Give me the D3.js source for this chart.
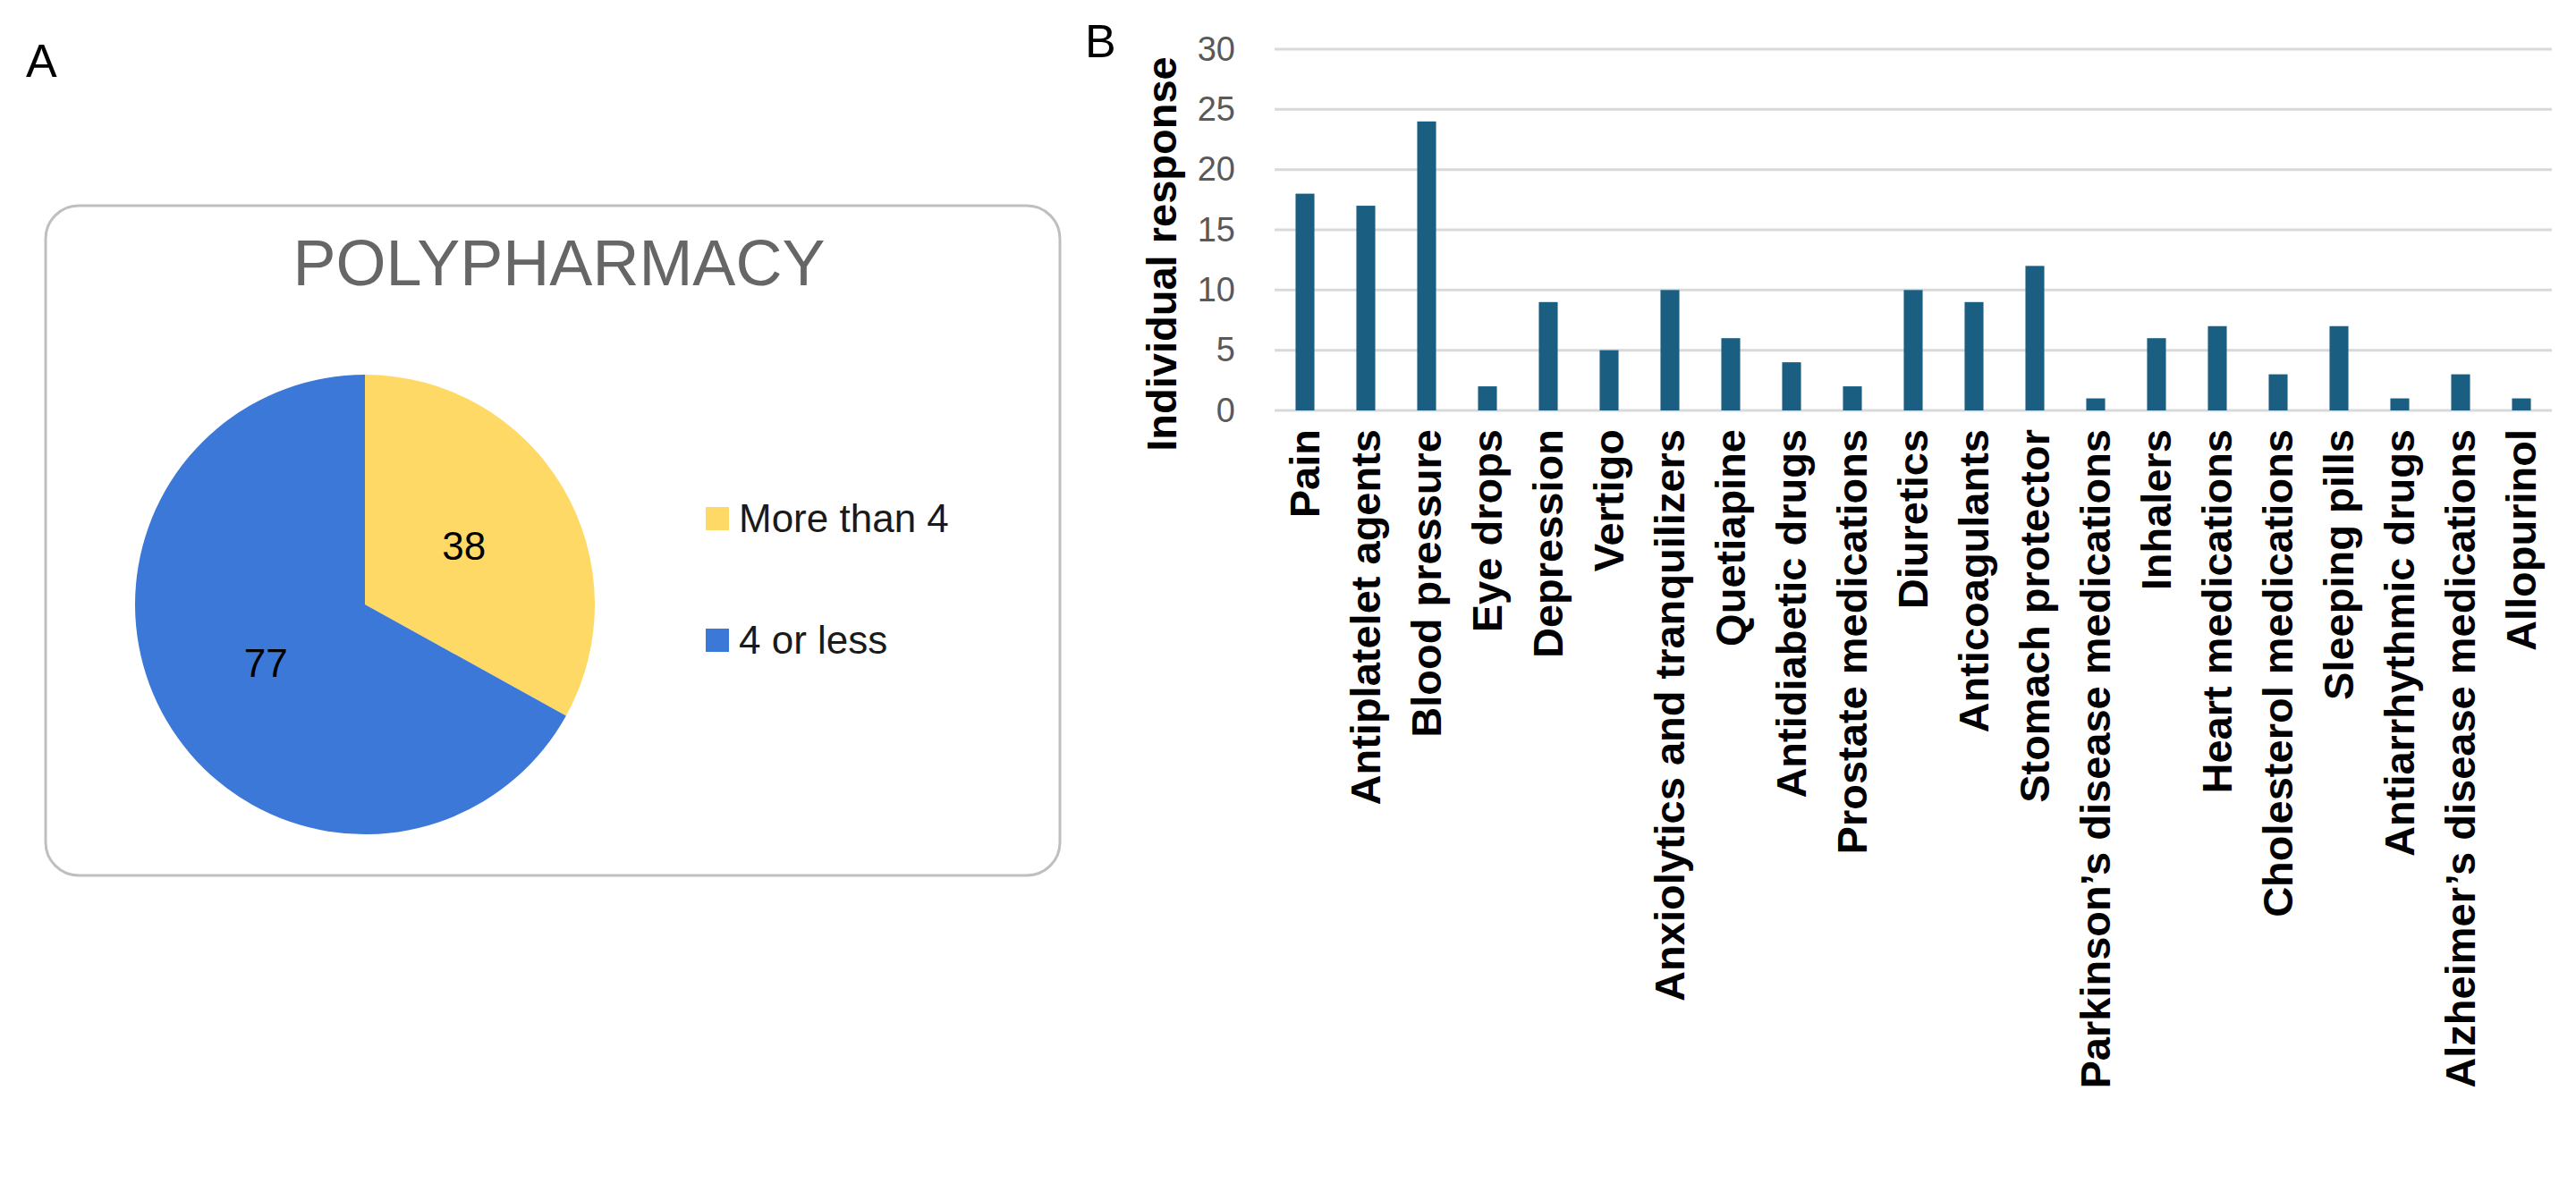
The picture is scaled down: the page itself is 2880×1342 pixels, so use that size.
<!DOCTYPE html>
<html>
<head>
<meta charset="utf-8">
<script src="https://cdn.jsdelivr.net/npm/d3@7/dist/d3.min.js"></script>
<style>
  html, body { margin: 0; padding: 0; background: #fff; }
  svg { display: block; }
  text { font-family: "Liberation Sans", Arial, sans-serif; }
</style>
</head>
<body>
<svg id="chart" width="2880" height="1342"></svg>
<script>
// ---- Panel A data ----
const pieLabels = ["More than 4", "4 or less"];
const pieValues = [38, 77];
const pieColors = ["#FFD966", "#3C78D8"];
const pieTitle = "POLYPHARMACY";

// ---- Panel B data ----
const categories = [
  "Pain", "Antiplatelet agents", "Blood pressure", "Eye drops", "Depression",
  "Vertigo", "Anxiolytics and tranquilizers", "Quetiapine", "Antidiabetic drugs",
  "Prostate medications", "Diuretics", "Anticoagulants", "Stomach protector",
  "Parkinson\u2019s disease medications", "Inhalers", "Heart medications",
  "Cholesterol medications", "Sleeping pills", "Antiarrhythmic drugs",
  "Alzheimer\u2019s disease medications", "Allopurinol"
];
const responses = [18, 17, 24, 2, 9, 5, 10, 6, 4, 2, 10, 9, 12, 1, 6, 7, 3, 7, 1, 3, 1];
const yTicks = [0, 5, 10, 15, 20, 25, 30];
const yTitle = "Individual response";

const svg = d3.select("#chart");
svg.append("rect").attr("width", 2880).attr("height", 1342).attr("fill", "#fff");

// ===== Panel A =====
svg.append("text").attr("x", 29).attr("y", 86)
  .attr("font-size", 52).attr("fill", "#000").text("A");

svg.append("rect")
  .attr("x", 51).attr("y", 230).attr("width", 1134).attr("height", 749)
  .attr("rx", 37).attr("ry", 37)
  .attr("fill", "#fff").attr("stroke", "#bfbfbf").attr("stroke-width", 3);

svg.append("text").attr("x", 625).attr("y", 319)
  .attr("text-anchor", "middle").attr("font-size", 72).attr("fill", "#666666")
  .text(pieTitle);

const cx = 408, cy = 676, R = 257;
const pie = d3.pie().sort(null).value(d => d);
const arcs = pie(pieValues);
const arc = d3.arc().innerRadius(0).outerRadius(R);
const gPie = svg.append("g").attr("transform", `translate(${cx},${cy})`);
gPie.selectAll("path").data(arcs).join("path")
  .attr("d", arc).attr("fill", (d, i) => pieColors[i]);
gPie.selectAll("text").data(arcs).join("text")
  .attr("transform", d => `translate(${arc.centroid(d)})`)
  .attr("text-anchor", "middle").attr("dy", "0.35em")
  .attr("font-size", 44).attr("fill", "#000")
  .text(d => d.data);

const legendY = d3.scalePoint().domain(pieLabels).range([580, 716]);
const gLeg = svg.append("g");
gLeg.selectAll("rect").data(pieLabels).join("rect")
  .attr("x", 789).attr("y", d => legendY(d) - 13)
  .attr("width", 26).attr("height", 26)
  .attr("fill", (d, i) => pieColors[i]);
gLeg.selectAll("text").data(pieLabels).join("text")
  .attr("x", 826).attr("y", d => legendY(d)).attr("dy", "0.35em")
  .attr("font-size", 44).attr("fill", "#1a1a1a")
  .text(d => d);

// ===== Panel B =====
svg.append("text").attr("x", 1213).attr("y", 64)
  .attr("font-size", 52).attr("fill", "#000").text("B");

const x = d3.scaleBand().domain(categories).range([1425, 2853]).paddingInner(0.69).paddingOuter(0.345);
const y = d3.scaleLinear().domain([0, 30]).range([459, 55]);

const gGrid = svg.append("g");
gGrid.selectAll("line").data(yTicks).join("line")
  .attr("x1", 1425).attr("x2", 2853)
  .attr("y1", d => y(d)).attr("y2", d => y(d))
  .attr("stroke", "#d9d9d9").attr("stroke-width", 3);

const yAxis = svg.append("g").attr("transform", "translate(1381,0)")
  .call(d3.axisLeft(y).tickValues(yTicks).tickSize(0).tickPadding(0));
yAxis.select(".domain").remove();
yAxis.selectAll("text").attr("font-size", 38).attr("fill", "#595959")
  .attr("font-family", "'Liberation Sans', Arial, sans-serif");

svg.append("g").selectAll("rect").data(categories).join("rect")
  .attr("x", d => x(d))
  .attr("width", x.bandwidth())
  .attr("y", (d, i) => y(responses[i]))
  .attr("height", (d, i) => y(0) - y(responses[i]))
  .attr("fill", "#1A5E82");

const xAxis = svg.append("g").attr("transform", "translate(0,459)")
  .call(d3.axisBottom(x).tickSize(0).tickPadding(0));
xAxis.select(".domain").remove();
xAxis.selectAll("text")
  .attr("transform", "rotate(-90)")
  .attr("x", -21).attr("y", 0).attr("dy", "0.35em")
  .attr("text-anchor", "end")
  .attr("font-size", 47).attr("font-weight", "bold").attr("fill", "#000")
  .attr("font-family", "'Liberation Sans', Arial, sans-serif");

svg.append("text")
  .attr("transform", `translate(1315,284) rotate(-90)`)
  .attr("text-anchor", "middle")
  .attr("font-size", 47).attr("font-weight", "bold").attr("fill", "#000")
  .text(yTitle);
</script>
</body>
</html>
